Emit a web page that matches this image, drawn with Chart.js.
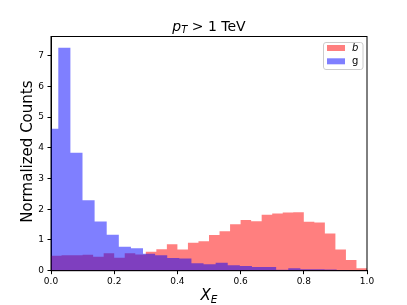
<!DOCTYPE html>
<html>
<head>
<meta charset="utf-8">
<script src="https://cdn.jsdelivr.net/npm/chart.js@4"></script>
<style>
  html, body { margin:0; padding:0; background:#fff; }
  #wrap { width:407px; height:305px; }
</style>
</head>
<body>
<div id="wrap"><canvas id="c" width="407" height="305"></canvas></div>
<script>
// ===== DATA =====
const seriesNames = ["b", "g"];

// b : 30 bins of width 1/30 starting at 0
const bStart = 0;
const bWidth = 1 / 30;
const bValues = [
  0.49, 0.50, 0.50, 0.52, 0.45, 0.57, 0.42, 0.57, 0.53, 0.62,
  0.70, 0.86, 0.69, 0.91, 0.96, 1.16, 1.28, 1.51, 1.65, 1.61,
  1.82, 1.86, 1.89, 1.90, 1.59, 1.57, 1.21, 0.69, 0.35, 0.08
];

// g : wider bins, first edge just below 0
const gStart = -0.0152;
const gWidth = 0.0383;
const gValues = [
  4.62, 7.25, 3.84, 2.29, 1.60, 1.17, 0.78, 0.73, 0.55, 0.50,
  0.41, 0.40, 0.24, 0.21, 0.26, 0.18, 0.15, 0.12, 0.12, 0.03,
  0.08, 0.05, 0.05, 0.04, 0.02, 0.01, 0.005
];

const xTicks = [0, 0.2, 0.4, 0.6, 0.8, 1.0];
const yTicks = [0, 1, 2, 3, 4, 5, 6, 7];

const FONT = "'DejaVu Sans', sans-serif";

// step points : one point per left edge, plus the closing right edge
function steps(start, width, values){
  const pts = values.map((v, i) => ({ x: start + i * width, y: v }));
  pts.push({ x: start + values.length * width, y: 0 });
  return pts;
}

// ===== PLUGIN : frame, title, labels, legend =====
const decor = {
  id: "decor",
  afterDraw(chart){
    const ctx = chart.ctx;
    const a = chart.chartArea;
    ctx.save();

    // frame
    ctx.strokeStyle = "#000";
    ctx.lineWidth = 1;
    ctx.strokeRect(a.left, a.top, a.right - a.left, a.bottom - a.top);

    ctx.fillStyle = "#000";
    ctx.textBaseline = "alphabetic";

    // title  p_T > 1 TeV
    const cx = (a.left + a.right) / 2;
    const ty = 30.5;
    const f1 = "italic 14px " + FONT;
    const f2 = "italic 10px " + FONT;
    const f3 = "14px " + FONT;
    const rest = " > 1 TeV";
    ctx.font = f1; const w1 = ctx.measureText("p").width;
    ctx.font = f2; const w2 = ctx.measureText("T").width;
    ctx.font = f3; const w3 = ctx.measureText(rest).width;
    let x = cx - (w1 + w2 + w3) / 2;
    ctx.textAlign = "left";
    ctx.font = f1; ctx.fillText("p", x, ty); x += w1;
    ctx.font = f2; ctx.fillText("T", x, ty + 2.8); x += w2;
    ctx.font = f3; ctx.fillText(rest, x, ty);

    // x label  X_E
    const g1 = "italic 15px " + FONT;
    const g2 = "italic 10.5px " + FONT;
    ctx.font = g1; const v1 = ctx.measureText("X").width;
    ctx.font = g2; const v2 = ctx.measureText("E").width;
    let lx = cx - (v1 + v2) / 2;
    ctx.font = g1; ctx.fillText("X", lx, 299.5); lx += v1;
    ctx.font = g2; ctx.fillText("E", lx, 302.5);

    // y label
    ctx.save();
    ctx.translate(28, (a.top + a.bottom) / 2 - 2);
    ctx.rotate(-Math.PI / 2);
    ctx.textAlign = "center";
    ctx.textBaseline = "middle";
    ctx.font = "15px " + FONT;
    ctx.fillText("Normalized Counts", 0, 0);
    ctx.restore();

    // legend
    const bx = 323, by = 42, bw = 39.5, bh = 27;
    ctx.fillStyle = "rgba(255,255,255,0.8)";
    ctx.strokeStyle = "#cccccc";
    ctx.lineWidth = 1;
    ctx.beginPath();
    ctx.roundRect(bx + 0.5, by + 0.5, bw, bh, 2.5);
    ctx.fill();
    ctx.stroke();
    const ds = chart.data.datasets;
    ds.forEach((d, i) => {
      const ry = by + 3 + i * 13.3;
      ctx.fillStyle = d.backgroundColor;
      ctx.fillRect(bx + 4, ry, 18, 6);
      ctx.fillStyle = "#000";
      ctx.textAlign = "left";
      ctx.textBaseline = "middle";
      ctx.font = (d.label === "b" ? "italic " : "") + "10px " + FONT;
      ctx.fillText(d.label, bx + 29, ry + 3.3);
    });

    ctx.restore();
  }
};

// ===== CHART =====
new Chart(document.getElementById("c"), {
  type: "line",
  data: {
    datasets: [
      {
        label: seriesNames[0],
        data: steps(bStart, bWidth, bValues),
        backgroundColor: "rgba(255,0,0,0.5)",
        borderWidth: 0,
        pointRadius: 0,
        stepped: true,
        fill: "origin",
        order: 1
      },
      {
        label: seriesNames[1],
        data: steps(gStart, gWidth, gValues),
        backgroundColor: "rgba(0,0,255,0.5)",
        borderWidth: 0,
        pointRadius: 0,
        stepped: true,
        fill: "origin",
        order: 0
      }
    ]
  },
  options: {
    responsive: false,
    animation: false,
    events: [],
    layout: { padding: { top: 36.5, right: 40, left: 0, bottom: 0 } },
    plugins: {
      legend: { display: false },
      title: { display: false },
      tooltip: { enabled: false }
    },
    scales: {
      x: {
        type: "linear",
        min: 0,
        max: 1,
        afterFit(s){ s.height = 34.3; },
        afterBuildTicks(s){ s.ticks = xTicks.map(v => ({ value: v })); },
        grid: { drawOnChartArea: false, tickLength: 3.5, tickColor: "#000", tickWidth: 1 },
        border: { display: true, color: "#000", width: 1 },
        ticks: {
          color: "#000",
          padding: 2,
          maxRotation: 0,
          font: { family: FONT, size: 9 },
          callback: v => v.toFixed(1)
        }
      },
      y: {
        min: 0,
        max: 7.62,
        afterFit(s){ s.width = 51; },
        afterBuildTicks(s){ s.ticks = yTicks.map(v => ({ value: v })); },
        grid: { drawOnChartArea: false, tickLength: 3.5, tickColor: "#000", tickWidth: 1 },
        border: { display: true, color: "#000", width: 1 },
        ticks: {
          color: "#000",
          padding: 3.5,
          font: { family: FONT, size: 9 },
          callback: v => String(v)
        }
      }
    }
  },
  plugins: [decor]
});
</script>
</body>
</html>
